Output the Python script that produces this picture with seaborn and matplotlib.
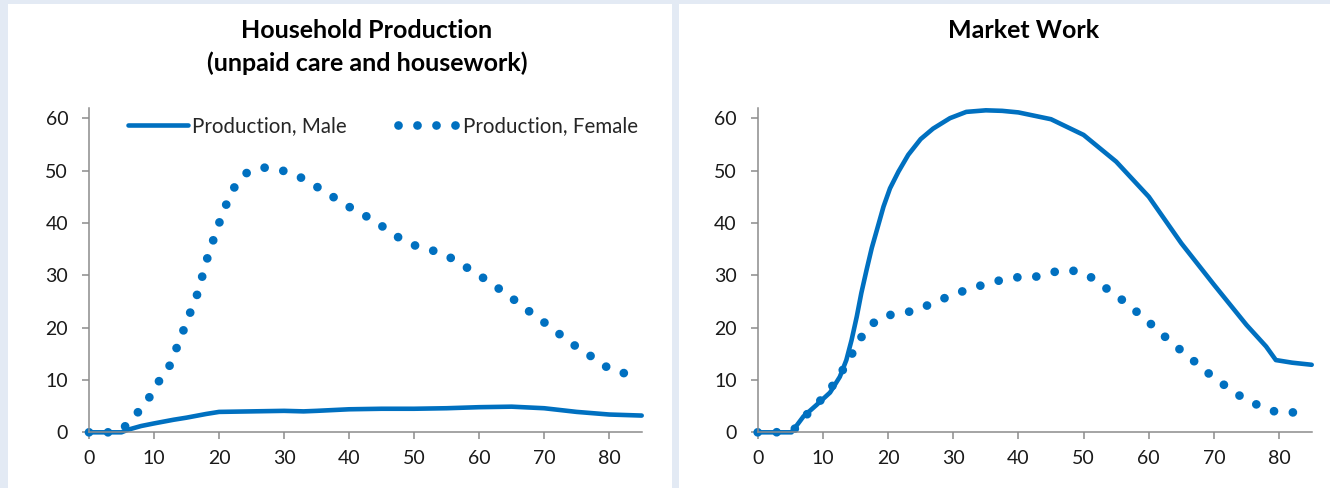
import matplotlib
matplotlib.use("Agg")
import matplotlib.pyplot as plt
from matplotlib.lines import Line2D
from matplotlib.patches import Rectangle
import seaborn as sns
import pandas as pd

# Household production (hours per week) by age
prod_male_age = [0, 5, 6, 8, 10, 13, 15, 18, 20, 25, 30, 33, 35, 40, 45, 50, 55, 60, 65, 70, 75, 80, 85]
prod_male = [0, 0, 0.5, 1.2, 1.7, 2.4, 2.8, 3.5, 3.9, 4.0, 4.1, 4.0, 4.1, 4.4, 4.5, 4.5, 4.6, 4.8, 4.9, 4.6, 3.9, 3.4, 3.2]

prod_female_age = [0, 3, 5, 7, 9, 10, 12, 13, 14, 15, 16, 17, 17.6, 18.4, 19.3, 20.2, 21.2, 22.4, 24.2,
                   26.7, 29.5, 32.1, 34.5, 36.9, 39.2, 41.6, 44, 46.3, 48.6, 51.2, 53.9, 56.3, 58.7,
                   61, 63.3, 65.5, 67.7, 69.9, 72.1, 74.3, 76.7, 78.8, 81.2, 84]
prod_female = [0, 0, 0.4, 3.1, 5.9, 8.7, 11.5, 14.6, 17.8, 21, 24.3, 27.5, 30.8, 34.1, 37.4, 40.6, 43.8, 46.9, 49.5,
               50.6, 50.1, 49, 47.3, 45.5, 43.6, 42, 40.3, 38.3, 36.4, 35.2, 34.4, 32.9, 31,
               29.2, 27.2, 25.2, 23.1, 21.1, 19, 16.9, 15, 13, 11.5, 11]

# Market work (hours per week) by age
work_male_age = [0, 5.2, 7, 9, 11.1, 12.6, 13.6, 14.4, 15.2, 15.9, 16.7, 17.5, 18.3, 19.3, 20.3, 21.6,
                 23.1, 25, 26.9, 29.5, 32, 35, 37.5, 40, 45, 50, 55, 60, 65, 70, 75, 78, 79.5, 82, 85]
work_male = [0, 0, 3.0, 5.2, 7.6, 10.6, 13.8, 17.6, 22.1, 26.6, 31, 35.2, 38.7, 43.1, 46.6, 49.8,
             53, 56, 58, 60, 61.2, 61.5, 61.4, 61.1, 59.8, 56.8, 51.7, 45, 36.1, 28.2, 20.5, 16.4,
             13.8, 13.3, 12.9]

work_female_age = [0, 2.8, 5.5, 7.3, 9.2, 11, 12.5, 14, 15.2, 16.7, 18.8, 21.4, 24.1, 26.7, 29.2,
                   31.8, 34.4, 37.1, 39.8, 42.6, 45.2, 48, 50.6, 52.9, 55.1, 57.3, 59.4, 61.5, 63.5,
                   65.7, 67.8, 69.9, 72.2, 74.4, 76.9, 79.5, 82.2]
work_female = [0, 0, 0.4, 3.1, 5.5, 8, 10.8, 13.8, 16.8, 19.7, 22, 22.7, 23.2, 24.6, 25.9,
               27.1, 28.1, 29, 29.6, 29.7, 30.6, 31, 30.1, 28, 26.1, 23.9, 21.7, 19.4, 17.1,
               14.9, 12.7, 10.5, 8.5, 6.6, 5.1, 3.9, 3.8]

x_ticks = [0, 10, 20, 30, 40, 50, 60, 70, 80]
y_ticks = [0, 10, 20, 30, 40, 50, 60]

BLUE = "#0070c0"
GREY = "#8c8c8c"

sns.set_style("white")
plt.rcParams["font.family"] = ["Lato", "DejaVu Sans"]

fig = plt.figure(figsize=(13.3, 4.88), dpi=100)
fig.patch.set_facecolor("#e3eaf4")
# white panels behind each chart
fig.patches.append(Rectangle((8 / 1330, 0), 664 / 1330, 1 - 4 / 488, transform=fig.transFigure,
                             facecolor="white", edgecolor="none", zorder=-5))
fig.patches.append(Rectangle((679 / 1330, 0), 651 / 1330, 1 - 4 / 488, transform=fig.transFigure,
                             facecolor="white", edgecolor="none", zorder=-5))

ax1 = fig.add_axes([89 / 1330, 0.1141, 552.7 / 1330, 0.6652])
ax2 = fig.add_axes([757.7 / 1330, 0.1141, 554 / 1330, 0.6652])

solid_kw = dict(color=BLUE, linewidth=3.3, solid_capstyle="round")
dot_kw = dict(color=BLUE, linewidth=6.3, linestyle=(0, (0.001, 2.17)), dash_capstyle="round")

sns.lineplot(x=prod_male_age, y=prod_male, ax=ax1, sort=False, **solid_kw)
sns.lineplot(x=prod_female_age, y=prod_female, ax=ax1, sort=False, **dot_kw)
sns.lineplot(x=work_male_age, y=work_male, ax=ax2, sort=False, **solid_kw)
sns.lineplot(x=work_female_age, y=work_female, ax=ax2, sort=False, **dot_kw)

for ax in (ax1, ax2):
    ax.set_facecolor("none")
    ax.set_xlim(0, 85)
    ax.set_ylim(0, 62)
    ax.set_xticks(x_ticks)
    ax.set_yticks(y_ticks)
    for side in ("top", "right"):
        ax.spines[side].set_visible(False)
    for side in ("left", "bottom"):
        ax.spines[side].set_color(GREY)
        ax.spines[side].set_linewidth(1.1)
    ax.tick_params(axis="both", direction="out", length=5, width=1.1, color=GREY,
                   labelsize=14, labelcolor="#1a1a1a", left=True, bottom=True)
    ax.tick_params(axis="y", pad=10)
    ax.tick_params(axis="x", pad=8)
    ax.set_xlabel("")
    ax.set_ylabel("")
    for ln in ax.lines:
        ln.set_clip_on(False)

handles = [Line2D([], [], **solid_kw), Line2D([], [], **dot_kw)]
ax1.legend(handles, ["Production, Male", "Production, Female"], ncol=2, frameon=False,
           loc="center left", bbox_to_anchor=(0.070, 0.944), borderpad=0, borderaxespad=0,
           handlelength=2.95, handletextpad=0.2, columnspacing=2.5, fontsize=14.8)

title_kw = dict(ha="center", va="center", fontsize=18, fontweight="bold", color="black")
fig.text(367 / 1330, 1 - 30 / 488, "Household Production", **title_kw)
fig.text(367 / 1330, 1 - 63 / 488, "(unpaid care and housework)", **title_kw)
fig.text(1024 / 1330, 1 - 30 / 488, "Market Work", **title_kw)

fig.savefig("out.png", dpi=100, facecolor=fig.get_facecolor())
